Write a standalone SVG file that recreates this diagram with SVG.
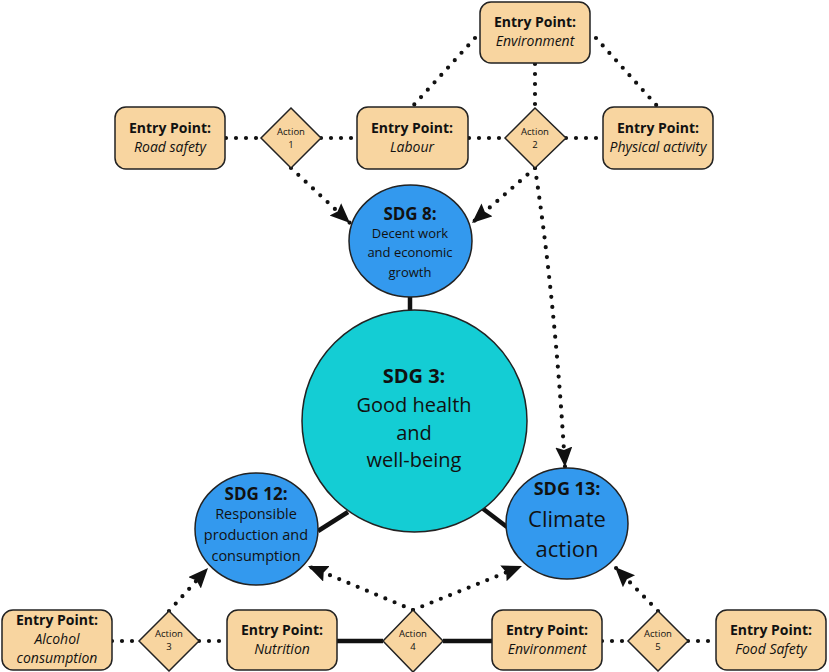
<svg xmlns="http://www.w3.org/2000/svg" width="829" height="672" viewBox="0 0 829 672">
<defs>
<style>
.ep{fill:#F8D5A0;stroke:#222;stroke-width:1.5}
.act{fill:#F8D5A0;stroke:#222;stroke-width:1.5}
.sdg{fill:#3399EE;stroke:#222;stroke-width:1.5}
.sdg3{fill:#14CDD4;stroke:#222;stroke-width:1.5}
text{font-family:"Open Sans","Noto Sans",sans-serif;fill:#111;text-anchor:middle}
.b{font-weight:bold;font-size:14px}
.i{font-style:italic;font-size:14px}
.a{font-size:9.5px}
.dot{fill:none;stroke:#111;stroke-width:4.2;stroke-linecap:round;stroke-dasharray:0 10}
.solid{fill:none;stroke:#111;stroke-width:4.5}
</style>
<marker id="ah" markerUnits="userSpaceOnUse" markerWidth="22" markerHeight="19" refX="20" refY="8.5" orient="auto" viewBox="0 0 22 19">
<path d="M0,0 L20,8.5 L0,17 L3,8.5 z" fill="#111"/>
</marker>
</defs>

<g id="connectors">
<line class="dot" x1="226" y1="138" x2="261" y2="138"/>
<line class="dot" x1="321" y1="138" x2="357" y2="138"/>
<line class="dot" x1="469" y1="138" x2="505" y2="138"/>
<line class="dot" x1="566" y1="138" x2="603" y2="138"/>
<line class="dot" x1="535" y1="64" x2="535" y2="108"/>
<line class="dot" x1="475" y1="38" x2="412" y2="107"/>
<line class="dot" x1="596" y1="38" x2="658" y2="107"/>
<line class="dot" x1="291" y1="168" x2="350" y2="223" marker-end="url(#ah)"/>
<line class="dot" x1="535" y1="168" x2="472" y2="223" marker-end="url(#ah)"/>
<path class="dot" d="M535,168 Q555,300 565,467" marker-end="url(#ah)"/>
<line class="solid" x1="410" y1="297" x2="410" y2="311"/>
<line class="solid" x1="318" y1="531" x2="348" y2="512"/>
<line class="solid" x1="482" y1="508" x2="507" y2="527"/>
<line class="dot" x1="112" y1="641" x2="139" y2="641"/>
<line class="dot" x1="199" y1="641" x2="227" y2="641"/>
<line class="solid" x1="337" y1="641" x2="383" y2="641"/>
<line class="solid" x1="443" y1="641" x2="492" y2="641"/>
<line class="dot" x1="602" y1="641" x2="628" y2="641"/>
<line class="dot" x1="688" y1="641" x2="716" y2="641"/>
<line class="dot" x1="169" y1="611" x2="208" y2="568" marker-end="url(#ah)"/>
<line class="dot" x1="413" y1="610" x2="308" y2="566" marker-end="url(#ah)"/>
<line class="dot" x1="413" y1="610" x2="522" y2="566" marker-end="url(#ah)"/>
<line class="dot" x1="658" y1="611" x2="615" y2="567" marker-end="url(#ah)"/>
</g>

<g id="ep-environment-top">
<rect class="ep" x="480" y="2" width="110" height="61" rx="11"/>
<text class="b" x="535" y="27">Entry Point:</text>
<text class="i" x="535" y="46">Environment</text>
</g>
<g id="ep-road-safety">
<rect class="ep" x="115" y="107" width="110" height="62" rx="11"/>
<text class="b" x="170" y="133">Entry Point:</text>
<text class="i" x="170" y="152">Road safety</text>
</g>
<g id="action1">
<polygon class="act" points="291,108 321,138 291,168 261,138"/>
<text class="a" x="291" y="135">Action</text>
<text class="a" x="291" y="148">1</text>
</g>
<g id="ep-labour">
<rect class="ep" x="357" y="107" width="111" height="62" rx="11"/>
<text class="b" x="412" y="133">Entry Point:</text>
<text class="i" x="412" y="152">Labour</text>
</g>
<g id="action2">
<polygon class="act" points="535,108 566,138 535,168 505,138"/>
<text class="a" x="535" y="135">Action</text>
<text class="a" x="535" y="148">2</text>
</g>
<g id="ep-physical-activity">
<rect class="ep" x="603" y="107" width="110" height="62" rx="11"/>
<text class="b" x="658" y="133">Entry Point:</text>
<text class="i" x="658" y="152">Physical activity</text>
</g>

<g id="sdg8">
<ellipse class="sdg" cx="410.5" cy="241" rx="61.5" ry="56"/>
<text x="410" y="220" style="font-weight:bold;font-size:17px">SDG 8:</text>
<text x="410" y="238" style="font-size:13px">Decent work</text>
<text x="410" y="257" style="font-size:13px">and economic</text>
<text x="410" y="277" style="font-size:13px">growth</text>
</g>
<g id="sdg3">
<ellipse class="sdg3" cx="414.5" cy="421" rx="112.5" ry="111"/>
<text x="414" y="383" style="font-weight:bold;font-size:20px">SDG 3:</text>
<text x="414" y="412" style="font-size:20px">Good health</text>
<text x="414" y="440" style="font-size:20px">and</text>
<text x="414" y="467" style="font-size:20px">well-being</text>
</g>
<g id="sdg12">
<ellipse class="sdg" cx="256.5" cy="529" rx="61.5" ry="56"/>
<text x="256" y="500" style="font-weight:bold;font-size:17px">SDG 12:</text>
<text x="256" y="519" style="font-size:14.5px">Responsible</text>
<text x="256" y="540" style="font-size:14.5px">production and</text>
<text x="256" y="561" style="font-size:14.5px">consumption</text>
</g>
<g id="sdg13">
<ellipse class="sdg" cx="567" cy="523.5" rx="61" ry="55.5"/>
<text x="567" y="495" style="font-weight:bold;font-size:18px">SDG 13:</text>
<text x="567" y="527" style="font-size:22px">Climate</text>
<text x="567" y="557" style="font-size:22px">action</text>
</g>

<g id="ep-alcohol">
<rect class="ep" x="2" y="610" width="110" height="60" rx="11"/>
<text class="b" x="57" y="625">Entry Point:</text>
<text class="i" x="57" y="644">Alcohol</text>
<text class="i" x="57" y="663">consumption</text>
</g>
<g id="action3">
<polygon class="act" points="169,611 199,641 169,671 139,641"/>
<text class="a" x="169" y="637">Action</text>
<text class="a" x="169" y="650">3</text>
</g>
<g id="ep-nutrition">
<rect class="ep" x="227" y="610" width="110" height="60" rx="11"/>
<text class="b" x="282" y="635">Entry Point:</text>
<text class="i" x="282" y="654">Nutrition</text>
</g>
<g id="action4">
<polygon class="act" points="413,610 443,641 413,672 383,641"/>
<text class="a" x="413" y="637">Action</text>
<text class="a" x="413" y="650">4</text>
</g>
<g id="ep-environment-bottom">
<rect class="ep" x="492" y="610" width="110" height="60" rx="11"/>
<text class="b" x="547" y="635">Entry Point:</text>
<text class="i" x="547" y="654">Environment</text>
</g>
<g id="action5">
<polygon class="act" points="658,611 688,641 658,671 628,641"/>
<text class="a" x="658" y="637">Action</text>
<text class="a" x="658" y="650">5</text>
</g>
<g id="ep-food-safety">
<rect class="ep" x="716" y="610" width="110" height="60" rx="11"/>
<text class="b" x="771" y="635">Entry Point:</text>
<text class="i" x="771" y="654">Food Safety</text>
</g>
</svg>
